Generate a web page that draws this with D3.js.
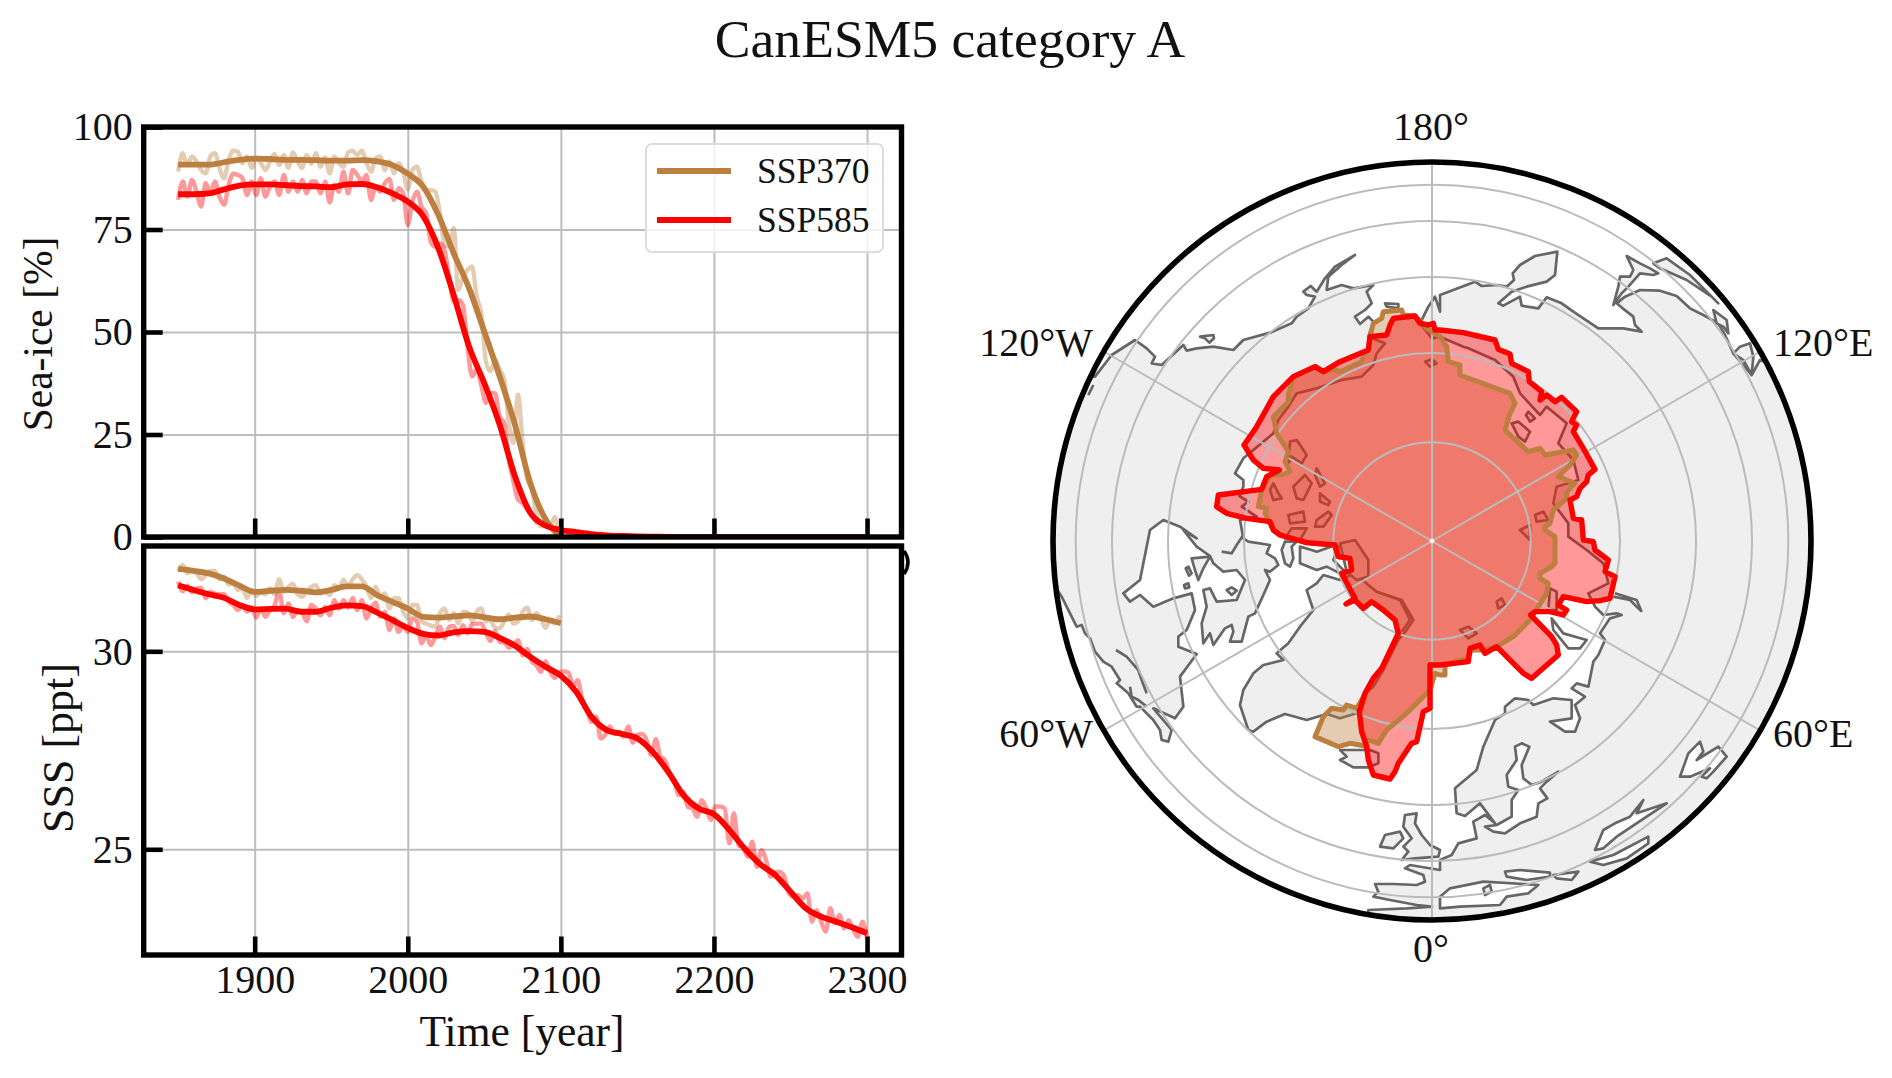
<!DOCTYPE html>
<html>
<head>
<meta charset="utf-8">
<script src="https://cdn.jsdelivr.net/npm/d3@7"></script>
<style>
body { margin: 0; background: #fff; overflow: hidden; }
svg { display: block; }
text { font-family: "Liberation Serif", serif; fill: #111; }
</style>
</head>
<body>
<div id="chart"></div>
<script>
////////
// Data: series. Raw values every 3 years, smoothed every 10.
const rawYears = d3.range(1850, 2301, 3);
const smoothYears = d3.range(1850, 2301, 10);
const xTicks = [1900, 2000, 2100, 2200, 2300];
const iceTicks = [0, 25, 50, 75, 100];
const sssTicks = [25, 30];

const ice370Raw = [89.1,93.6,90.7,92.8,91.6,89.5,88.7,92.8,93.6,90,87.5,92,94.2,94,91.2,92.8,90,92.6,91.2,89.5,91.6,93.4,90.7,93.2,90,93.8,91.6,90,93.2,91,93.6,90.3,92.6,88.7,92.8,91.2,90.3,93.8,94.2,93.2,94.2,91.2,89.1,92.4,92.8,89.5,91.6,88.7,91.2,89.1,84.8,89.5,90.3,86.7,84.6,84.6,84.2,79,71.2,70.8,75.3,60.3,63.5,65.1,66,58.6,54.6,42.8,40.4,43.2,40.8,38.4,27.8,23,34.7,23,14,11.6,5.9,2.6,3.5,2.6,4.9,0.8];
const ice370Smooth = [90.8,90.8,90.8,91.4,92,92.3,92.2,92,92,91.9,91.8,91.8,91.9,91.6,90.7,88.6,85.5,78.5,69.2,60.7,50.1,39.2,27.4,13.2,4.3,0];

const ice585Raw = [82.2,86.7,83,87.1,84.2,80.6,86.3,83.8,86.7,83,81,85.9,88.6,88.3,87.5,83.4,86.7,83.4,87.5,83,85.5,86.7,83.4,88.3,84.2,86.7,84.2,87.1,83.8,86.7,86.7,83.8,86.7,81.6,85.9,84.2,89.1,83.8,89.5,88.3,86.7,88.3,82.2,85.5,84.2,86.3,87.3,82.2,85.1,83.8,76.1,81.8,84.2,80.6,79,72,70.8,71.6,70,63.5,57.4,57.8,56.6,46.5,39.2,40.8,37.1,32.7,35.1,35.1,29.4,27.8,18.9,13.6,9.1,8.3,6.7,5.9,3.5,3.5,2.6,2.6,1.8,1.6,
  1.4,1.2,1.5,1,0.9,1.1,0.7,0.6,0.8,0.5,0.4,0.5,0.3,0.3,0.4,0.2,0.2,0.2,0.1,0.1,0.2,0.1,0.1,0.1,0.1,0.1,0.05,0.1,0.05,0.05,0.05,0.05,0.05,0.05,0.05,0.05,0.05,0.05,0.05,0.05,0.05,0.05,0.05,0.05,0.05,0.05,0.05,0.05,0.05,0.05,0.05,0.05,0.05,0.05,0.05,0.05,0.05,0.05,0.05,0.05,0.05,0.05,0.05,0.05,0.05,0.05,0.05];
const ice585Smooth = [83.6,83.6,83.8,84.8,85.7,86,86,85.8,85.6,85.5,85.3,86,86.1,85.3,83.8,81.8,78.3,70.4,59,46.5,37.5,27.4,14.8,5.9,2.8,1.7,1.2,0.7,0.4,0.25,0.15,0.1,0.05,0.05,0.05,0.05,0.05,0.05,0.05,0.05,0.05,0.05,0.05,0.05,0.05,0.05];

const sss370Raw = [32.03,32.18,31.97,32.05,31.99,31.82,31.92,32.03,32.03,31.82,31.88,31.69,31.71,31.55,31.59,31.35,31.55,31.4,31.49,31.44,31.59,31.44,31.82,31.5,31.63,31.71,31.44,31.38,31.52,31.63,31.67,31.46,31.5,31.42,31.67,31.59,31.8,31.63,31.82,31.92,31.82,31.63,31.34,31.63,31.38,31.46,31.08,31.34,31.34,31,30.83,31.17,31.17,30.75,30.7,30.65,30.62,30.96,31.08,30.79,30.96,30.7,31,30.98,30.76,31,31.08,30.75,30.79,30.59,30.58,30.75,30.93,30.7,30.75,31,31.1,30.79,30.96,30.83,30.59,30.79,30.7,30.91];
const sss370Smooth = [32.08,32.03,31.97,31.84,31.66,31.5,31.53,31.55,31.53,31.49,31.55,31.64,31.64,31.42,31.25,31.08,30.87,30.85,30.88,30.91,30.86,30.81,30.85,30.88,30.81,30.71];

const sss585Raw = [31.76,31.52,31.66,31.49,31.59,31.6,31.34,31.5,31.46,31.44,31.44,31.25,31.17,31.04,31.17,31,31.12,30.85,31.08,30.87,31.04,31.17,31.5,30.96,31.21,30.87,31.04,30.98,30.76,31.17,31.08,30.91,31.12,30.91,31.29,31.08,31.29,31.1,31.35,31.04,31.29,30.83,31.08,31.23,30.87,31,30.54,30.83,30.49,30.66,30.49,30.83,30.75,30.2,30.41,30.16,30.37,30.62,30.33,30.62,30.64,30.41,30.66,30.45,30.68,30.7,30.7,30.48,30.26,30.51,30.24,30.22,30.09,30.16,30.28,29.9,30.06,29.74,29.65,29.48,29.75,29.48,29.33,29.48,
  29.49,29.46,29.11,29.27,28.77,28.52,28.22,28.35,27.8,27.89,28.1,27.91,27.97,27.84,28.1,27.69,27.89,27.91,27.76,27.38,27.78,27.34,27.25,26.92,26.75,26.37,26.45,26.07,26.03,25.82,26.24,26.03,25.74,26.08,26.08,26.03,25.15,25.91,25.1,25.06,24.81,25.19,24.56,24.98,24.73,24.31,24.43,24.43,24.31,23.89,23.8,23.84,23.76,23.89,23.17,23.46,23.17,22.92,23.51,23.13,23.34,23,23.21,22.96,22.79,23.17,22.75];
const sss585Smooth = [31.67,31.55,31.44,31.35,31.17,31.06,31.07,31.08,31,31,31.1,31.16,31.14,30.98,30.79,30.59,30.44,30.4,30.48,30.51,30.49,30.34,30.14,29.86,29.61,29.38,28.98,28.35,28.01,27.91,27.8,27.46,26.96,26.37,26.03,25.89,25.49,25.02,24.63,24.35,23.93,23.51,23.3,23.17,23.03,22.88];

const seriesColors = { ssp370: "#bc7f40", ssp585: "#ff0000" };
const seriesNames = ["SSP370", "SSP585"];

// Map data: outlines are traced per map quadrant, in map units (1137 = rim of the disk).
const meridianAngles = [0, 60, 120, 180, 240, 300];
const meridianLabels = ["0°", "60°E", "120°E", "180°", "120°W", "60°W"];
const parallelRadii = [296, 564, 792, 960, 1069];

function ring() {
  let pts = [];
  for (let i = 0; i < arguments.length; i += 2) {
    let q = arguments[i];
    let dx = q[1] === "w" ? -1176 : 24;
    let dy = q[0] === "n" ? 1203 : 33;
    arguments[i + 1].split(" ").forEach(function(p) {
      let c = p.split(",").map(Number);
      pts.push([c[0] + dx, dy - c[1]]);
    });
  }
  return pts;
}

const northAmerica = ring(
  "nw", "165,710 215,645 285,600 320,625 345,650 335,670 365,675 430,615 440,632 470,625 520,620 580,630 610,600 690,578 755,550 770,530 805,505 825,470 800,465 790,455 812,438 830,455 855,415 885,380 945,345 905,375 865,410 860,450 905,435 940,445 1000,435 980,455 995,490 975,510 945,530 960,552 985,530 1000,545 985,590 1035,610 1010,640 1000,675 965,710 905,720 830,745 770,760 745,800 715,840 700,880 640,930 610,955 585,1000 610,1020 610,1040 598,1068 625,1085 605,1100 650,1130 600,1140 610,1195",
  "sw", "625,35 690,45 680,70 705,85 715,105 690,125 675,120 690,150 670,195 645,250 625,260 605,335 570,335 580,305 575,285 555,295 520,345 510,310 490,340 485,280 500,230 490,180 510,175 530,215 590,210 615,150 590,120 550,125 520,100 510,78 470,50 430,0",
  "nw", "470,1195 420,1160 370,1140 330,1170",
  "sw", "330,0 300,150 250,190 270,215 300,195 340,230 400,205 455,190 465,240 440,300 415,320 415,350 470,372 420,440 430,530 405,565 340,535 395,600 385,635 365,630 360,600 340,570 300,530 290,530 265,490 230,460 240,450 215,410 190,395 165,365 150,325 135,310 125,285 110,290 90,250 65,200 0,100",
  "nw", "0,1000 60,700"
);
const greenland = ring("sw", "900,150 850,135 830,160 800,180 820,240 780,290 745,340 710,370 730,390 670,405 640,430 610,480 600,525 625,600 640,605 680,575 735,552 800,570 860,552 900,565 955,548 965,510 975,490 1000,470 1030,420 1040,400 1075,330 1100,300 1120,270 1085,210 1010,185 985,165 945,130");
const eurasia = ring(
  "nw", "1185,470 1200,515",
  "ne", "0,465 105,425 125,438 170,435 200,440 222,420 218,400 240,375 285,348 352,335 345,405 320,425 260,440 215,455 175,490 190,497 240,470 245,497 295,505 320,472 365,490 400,515 475,565 550,565 605,575 585,555 580,530 548,505 530,490 555,470 600,450 660,452 710,468 750,505 790,525 835,550 855,585 880,640 935,705 960,660 1300,800",
  "se", "1300,600 200,1250",
  "sw", "985,1250 985,1140 1100,1135 1176,1130 1130,1125 1050,1110 1000,1100 1015,1085 1005,1062 1060,1062 1130,1065 1155,1055 1150,1035 1095,1015 1110,1005 1200,1020",
  "se", "0,990 35,975 55,940 110,925 100,875 135,855 165,880 120,820 75,858 50,850 45,775 110,720 130,650 165,570 195,550 195,530 225,505 265,510 280,525 340,505 395,510 395,565 330,575 375,605 405,605 420,565 405,525 435,500 395,475 410,460 445,470 460,395 475,375 495,330 480,310 510,265 545,255 530,250 490,255 465,230 445,190 505,160 490,100 440,60 385,20",
  "ne", "385,1190 385,1150 340,1090 350,1040 415,1020 400,960 355,910 380,850 320,800 300,825 240,760 220,710 165,660 85,625 70,620 0,590",
  "nw", "1176,595 1140,550 1165,500"
);
const islands = [
  ring("sw", "735,35 725,60 735,100 750,110 760,85 755,50 770,35"),
  ring("sw", "780,50 780,100 830,120 860,110 900,130 915,125 880,90 895,50 885,45 860,55 830,65 815,60"),
  ring("sw", "437,115 445,110 455,130 447,137"),
  ring("sw", "455,85 510,80 490,115 475,150 465,120"),
  ring("sw", "560,180 575,172 590,182 575,195"),
  ring("sw", "432,165 445,160 448,172 435,175"),
  ring("sw", "900,40 945,30 985,90 985,140 950,150 920,125"),
  ring("sw", "900,660 920,680 900,690 940,712 985,712 1015,700 1015,670 990,660 975,660"),
  ring("sw", "1095,855 1130,850 1125,880 1145,915 1170,945 1200,960 1195,980 1125,985 1085,990 1105,965 1090,950 1115,925 1090,890"),
  ring("sw", "1020,950 1035,915 1080,905 1090,925 1060,955"),
  ring("nw", "480,590 520,585 522,595 508,608 495,595"),
  ring("nw", "1035,490 1075,492 1075,505 1040,500"),
  ring("nw", "1155,665 1175,658 1190,670 1170,680"),
  ring("nw", "750,905 770,900 800,945 785,970 755,950 745,970"),
  ring("nw", "830,985 855,1030 840,1040 825,1005"),
  ring("nw", "795,1005 815,1030 790,1080 770,1075 760,1040"),
  ring("nw", "700,1030 715,1060 725,1075 700,1080 690,1050"),
  ring("nw", "840,1060 870,1085 865,1095 840,1085"),
  ring("nw", "830,1140 865,1115 875,1125 850,1160 825,1160"),
  ring("nw", "745,1125 790,1115 795,1145 750,1150"),
  ring("nw", "800,1165 780,1200 735,1195 755,1165"),
  ring("ne", "520,495 535,440 540,410 570,410 580,390 560,348 600,370 630,385 655,400 640,405 600,400 565,440 545,460"),
  ring("ne", "640,370 680,355 750,405 835,490 815,470 740,420 660,385"),
  ring("ne", "820,510 860,540 865,580 850,560 830,550"),
  ring("ne", "880,640 900,620 930,610 940,650 935,705 910,660"),
  ring("ne", "258,825 265,815 285,835 270,845"),
  ring("ne", "215,850 235,845 270,875 255,905 235,890"),
  ring("ne", "285,1125 310,1115 325,1140 290,1145"),
  ring("ne", "240,1170 270,1155 270,1200"),
  ring("se", "170,215 185,205 195,225 175,235"),
  ring("se", "60,300 85,290 110,310 85,325"),
  ring("se", "330,175 350,185 350,240 325,240"),
  ring("se", "130,1075 150,1065 155,1085 135,1095")
];
const inlandSeas = [
  ring("se", "225,650 245,640 268,650 245,705 250,745 275,765 305,755 355,725 320,755 300,775 322,805 295,820 290,860 240,880 195,910 160,905 135,890 170,885 215,860 215,810 235,780 205,770 200,735 230,690"),
  ring("se", "465,960 490,900 525,880 570,860 610,810 590,850 680,820 620,860 530,920 490,955"),
  ring("se", "450,995 520,975 625,920 625,940 560,985 490,1005"),
  ring("se", "720,740 745,670 780,635 790,665 770,690 835,650 860,680 820,725 800,745 785,740 810,715 750,740"),
  ring("se", "195,1025 240,1020 330,1028 330,1040 260,1050 200,1040"),
  ring("se", "340,1035 415,1025 395,1050 350,1045"),
  ring("se", "0,1100 30,1075 130,1055 250,1062 295,1065 265,1090 200,1100 180,1125 60,1130 0,1135"),
  ring("se", "335,265 370,310 440,330 420,355 385,355 340,300")
];
const coastLines = [
  ring("sw", "228,360 260,380 295,420 305,450 320,490"),
  ring("sw", "270,470 275,500 295,510 320,530"),
  ring("sw", "545,65 575,70 590,45 610,15"),
  ring("sw", "1010,185 1080,210 1110,270 1085,305"),
  ring("nw", "145,765 160,735"),
  ring("se", "525,190 590,210 605,245 570,210 520,200")
];

const ice585Contour = ring(
  "nw", "1060,535 1125,528 1140,550 1165,555 1180,550 1185,570",
  "ne", "0,570 70,578 165,600 175,628 210,642 215,670 265,695 268,725 305,755 300,780 320,765 345,785 365,772 410,815 395,845 410,855 400,875 430,925 465,988 445,1005 440,1025 420,1045 410,1070 390,1080 400,1135 425,1140",
  "se", "430,30 460,35 465,60 505,90 495,125 525,140 510,205 480,212 440,215 370,200 355,225 380,240 370,255 330,245 285,245 272,255 335,320 350,345 355,375 275,445 250,430 170,350 135,370 120,345 90,355 85,395 0,405",
  "sw", "1170,405 1170,535 1150,545 1130,635 1115,640 1075,700 1065,725 1050,747 1000,735 985,690 980,650 965,605 958,545 975,490 1000,445 1025,415 1075,310 1065,270 1030,240 995,215 970,235 945,210 918,222 945,205 905,130 935,120 930,85 895,80 885,45 800,38 720,15 700,0",
  "nw", "690,1145 620,1135 560,1120 530,1100 535,1065 665,1048 680,1010 718,990 670,985 640,960 612,915 650,860 700,770 760,710 825,680 850,695 900,665 985,630 990,590 1040,585 1050,555"
);
const ice370Contour = ring(
  "nw", "990,590 1000,550 1025,535 1030,515 1085,510 1090,525 1125,528 1160,565",
  "ne", "0,590 20,620 25,665 60,675 60,705 210,760 225,790 210,820 195,870 265,935 300,925 315,945 400,930 410,945 390,975 355,1010 405,1030 380,1055 380,1075 340,1110 330,1150 315,1160",
  "se", "315,0 345,20 345,100 335,110 300,130 300,145 325,160 320,190 270,270 220,320 170,350 135,360 95,360 80,385 15,405 15,435 0,435",
  "sw", "1185,430 1170,480 1140,510 1100,550 1070,575 1040,600 1015,640 985,630 975,648 930,640 895,650 825,620 850,560 875,535 910,540 920,525 950,535 965,510 1000,445 1025,415 1075,310 1065,270 1030,240 995,215 970,235 945,210 905,130 935,120 930,85 895,80 885,45 800,38 720,15 700,0",
  "nw", "675,1120 680,1105 655,1100 665,1050 690,1005 725,1005 750,995 735,965 745,935 710,880 700,830 745,785 745,765 760,710 825,680 850,695 882,688 900,695 965,665 972,645 985,630"
);


////////
// Canvas
const svg_width = 1892;
const svg_height = 1078;

const svg = d3.select("#chart")
  .append("svg")
  .attr("width", svg_width)
  .attr("height", svg_height);

const fontSize = 40;

svg.append("text")
  .attr("x", 950)
  .attr("y", 57)
  .attr("text-anchor", "middle")
  .style("font-size", "53.6px")
  .text("CanESM5 category A");


////////
// Scales of the two time panels
const xScale = d3.scaleLinear().domain([1827.5, 2322.5]).range([143.7, 901.5]);
const yIce = d3.scaleLinear().domain([0, 100]).range([537, 127]);
const ySss = d3.scaleLinear().domain([32.66, 22.33]).range([546, 955]);

svg.append("clipPath").attr("id", "clipIce").append("rect")
  .attr("x", 143.7).attr("y", 127).attr("width", 757.8).attr("height", 410);
svg.append("clipPath").attr("id", "clipSss").append("rect")
  .attr("x", 143.7).attr("y", 546).attr("width", 757.8).attr("height", 409);

function drawPanel(yScale, yTicks, clipId, series, showXLabels) {
  let top = yScale.range()[0] < yScale.range()[1] ? yScale.range()[0] : yScale.range()[1];
  let bottom = yScale.range()[0] < yScale.range()[1] ? yScale.range()[1] : yScale.range()[0];
  let left = xScale.range()[0];
  let right = xScale.range()[1];
  let g = svg.append("g");

  // gridlines
  g.append("g")
    .attr("transform", `translate(0,${bottom})`)
    .call(d3.axisBottom(xScale).tickValues(xTicks).tickSize(top - bottom).tickFormat(""))
    .call(a => a.select(".domain").remove())
    .selectAll("line").attr("stroke", "#bdbdbd").attr("stroke-width", 2);
  g.append("g")
    .attr("transform", `translate(${left},0)`)
    .call(d3.axisLeft(yScale).tickValues(yTicks).tickSize(left - right).tickFormat(""))
    .call(a => a.select(".domain").remove())
    .selectAll("line").attr("stroke", "#bdbdbd").attr("stroke-width", 2);

  // raw series first, the smoothed ones over them
  let plot = g.append("g").attr("clip-path", `url(#${clipId})`);
  let line = d3.line()
    .x(d => xScale(d[0]))
    .y(d => yScale(d[1]))
    .curve(d3.curveMonotoneX);
  series.forEach(function(s) {
    plot.append("path")
      .datum(s.raw.map((v, i) => [rawYears[i], v]))
      .attr("fill", "none").attr("stroke", s.color).attr("stroke-opacity", 0.4)
      .attr("stroke-width", 4.4).attr("d", line);
  });
  series.forEach(function(s) {
    plot.append("path")
      .datum(s.smooth.map((v, i) => [smoothYears[i], v]))
      .attr("fill", "none").attr("stroke", s.color)
      .attr("stroke-width", 5.8).attr("d", line);
  });

  // frame, inward ticks, labels
  g.append("rect")
    .attr("x", left).attr("y", top)
    .attr("width", right - left).attr("height", bottom - top)
    .attr("fill", "none").attr("stroke", "#000").attr("stroke-width", 5.4);

  let xAxis = g.append("g")
    .attr("transform", `translate(0,${bottom})`)
    .call(d3.axisBottom(xScale).tickValues(xTicks).tickSize(-18.5).tickPadding(showXLabels ? 10 : 0)
      .tickFormat(showXLabels ? d3.format("d") : ""));
  xAxis.select(".domain").remove();
  xAxis.selectAll("line").attr("stroke", "#000").attr("stroke-width", 4.6);
  xAxis.selectAll("text").style("font-size", fontSize + "px").attr("font-family", null);

  let yAxis = g.append("g")
    .attr("transform", `translate(${left},0)`)
    .call(d3.axisLeft(yScale).tickValues(yTicks).tickSize(-19).tickPadding(11).tickFormat(d3.format("d")));
  yAxis.select(".domain").remove();
  yAxis.selectAll("line").attr("stroke", "#000").attr("stroke-width", 4.6);
  yAxis.selectAll("text").style("font-size", fontSize + "px").attr("font-family", null);
}

drawPanel(yIce, iceTicks, "clipIce", [
  { raw: ice370Raw, smooth: ice370Smooth, color: seriesColors.ssp370 },
  { raw: ice585Raw, smooth: ice585Smooth, color: seriesColors.ssp585 }
], false);

drawPanel(ySss, sssTicks, "clipSss", [
  { raw: sss370Raw, smooth: sss370Smooth, color: seriesColors.ssp370 },
  { raw: sss585Raw, smooth: sss585Smooth, color: seriesColors.ssp585 }
], true);

// stray mark on the right of the lower panel
svg.append("path")
  .attr("d", "M904,551 Q912,562 904,574")
  .attr("fill", "none").attr("stroke", "#000").attr("stroke-width", 3.5);

svg.append("text")
  .attr("transform", "translate(52,334) rotate(-90)")
  .attr("text-anchor", "middle")
  .style("font-size", "41.5px")
  .text("Sea-ice [%]");

svg.append("text")
  .attr("transform", "translate(73,748) rotate(-90)")
  .attr("text-anchor", "middle")
  .style("font-size", "44px")
  .text("SSS [ppt]");

svg.append("text")
  .attr("x", 522)
  .attr("y", 1046)
  .attr("text-anchor", "middle")
  .style("font-size", "43.5px")
  .text("Time [year]");

// legend
const legend = svg.append("g");
legend.append("rect")
  .attr("x", 646).attr("y", 144).attr("width", 237).attr("height", 108).attr("rx", 6)
  .attr("fill", "#fff").attr("fill-opacity", 0.8)
  .attr("stroke", "#dcdcdc").attr("stroke-width", 2);
seriesNames.forEach(function(name, i) {
  let y = 171 + i * 49;
  legend.append("line")
    .attr("x1", 657).attr("x2", 731).attr("y1", y).attr("y2", y)
    .attr("stroke", i === 0 ? seriesColors.ssp370 : seriesColors.ssp585)
    .attr("stroke-width", 5.8);
  legend.append("text")
    .attr("x", 757).attr("y", y + 12)
    .style("font-size", "35.5px")
    .text(name);
});


////////
// Polar map
const cx = 1432;
const cy = 541;
const rimRadius = 379;
const planeRim = 1137;

const mapX = d3.scaleLinear().domain([-planeRim, planeRim]).range([cx - rimRadius, cx + rimRadius]);
const mapY = d3.scaleLinear().domain([-planeRim, planeRim]).range([cy + rimRadius, cy - rimRadius]);
const mapR = d3.scaleLinear().domain([0, planeRim]).range([0, rimRadius]);

const mapLine = d3.line().x(d => mapX(d[0])).y(d => mapY(d[1]));
const mapRing = d3.line().x(d => mapX(d[0])).y(d => mapY(d[1])).curve(d3.curveLinearClosed);

svg.append("clipPath").attr("id", "clipDisk").append("circle")
  .attr("cx", cx).attr("cy", cy).attr("r", rimRadius);

const map = svg.append("g").attr("clip-path", "url(#clipDisk)");

const landColor = "#efefef";
const coastColor = "#666666";

function drawRings(rings, fill) {
  map.append("g").selectAll("path")
    .data(rings)
    .enter()
    .append("path")
    .attr("d", mapRing)
    .attr("fill", fill)
    .attr("stroke", coastColor)
    .attr("stroke-width", 2.7)
    .attr("stroke-linejoin", "round");
}

drawRings([northAmerica, greenland, eurasia], landColor);
drawRings(inlandSeas, "#fff");
drawRings(islands, landColor);

map.append("g").selectAll("path")
  .data(coastLines)
  .enter()
  .append("path")
  .attr("d", mapLine)
  .attr("fill", "none")
  .attr("stroke", coastColor)
  .attr("stroke-width", 2.7);

// sea-ice areas, filled
map.append("path").attr("d", mapRing(ice370Contour))
  .attr("fill", seriesColors.ssp370).attr("fill-opacity", 0.4);
map.append("path").attr("d", mapRing(ice585Contour))
  .attr("fill", seriesColors.ssp585).attr("fill-opacity", 0.4);

// graticule over the fills
map.append("g").selectAll("circle")
  .data(parallelRadii)
  .enter()
  .append("circle")
  .attr("cx", cx).attr("cy", cy)
  .attr("r", d => mapR(d))
  .attr("fill", "none").attr("stroke", "#bbbbbb").attr("stroke-width", 2);

map.append("g").selectAll("line")
  .data(meridianAngles)
  .enter()
  .append("line")
  .attr("x1", cx).attr("y1", cy)
  .attr("x2", d => mapX(planeRim * Math.sin(d * Math.PI / 180)))
  .attr("y2", d => mapY(-planeRim * Math.cos(d * Math.PI / 180)))
  .attr("stroke", "#bbbbbb").attr("stroke-width", 2);

// contour outlines
map.append("path").attr("d", mapRing(ice370Contour))
  .attr("fill", "none").attr("stroke", seriesColors.ssp370)
  .attr("stroke-width", 5).attr("stroke-linejoin", "round");
map.append("path").attr("d", mapRing(ice585Contour))
  .attr("fill", "none").attr("stroke", seriesColors.ssp585)
  .attr("stroke-width", 5.4).attr("stroke-linejoin", "round");

svg.append("circle")
  .attr("cx", cx).attr("cy", cy).attr("r", 2.5)
  .attr("fill", "#fff").attr("stroke", "#f8b0a8").attr("stroke-width", 1);

svg.append("circle")
  .attr("cx", cx).attr("cy", cy).attr("r", rimRadius)
  .attr("fill", "none").attr("stroke", "#000").attr("stroke-width", 5.6);

// longitude labels
const labelPlaces = {
  "0°": [1431, 962, "middle"],
  "60°E": [1773, 747, "start"],
  "120°E": [1773, 356, "start"],
  "180°": [1431, 140, "middle"],
  "120°W": [1093, 356, "end"],
  "60°W": [1093, 747, "end"]
};
svg.append("g").selectAll("text")
  .data(meridianLabels)
  .enter()
  .append("text")
  .attr("x", d => labelPlaces[d][0])
  .attr("y", d => labelPlaces[d][1])
  .attr("text-anchor", d => labelPlaces[d][2])
  .style("font-size", fontSize + "px")
  .text(d => d);
</script>
</body>
</html>
